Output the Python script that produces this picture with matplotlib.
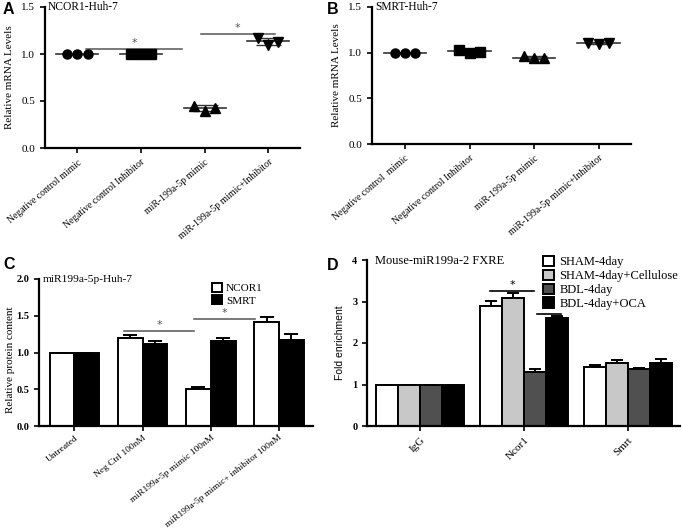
import matplotlib
matplotlib.use("Agg")
import matplotlib.pyplot as plt
import numpy as np

# ---------------- data ----------------
catA = ["Negative control mimic", "Negative control Inhibitor",
        "miR-199a-5p mimic", "miR-199a-5p mimic+Inhibitor"]
catB = ["Negative control  mimic", "Negative control Inhibitor",
        "miR-199a-5p mimic", "miR-199a-5p mimic+Inhibitor"]
ncor1_pts = [[1.00, 1.00, 1.00], [1.00, 1.00, 1.00],
             [0.45, 0.39, 0.43], [1.17, 1.10, 1.13]]
smrt_pts = [[1.00, 1.00, 1.00], [1.03, 1.00, 1.01],
            [0.96, 0.94, 0.94], [1.11, 1.09, 1.11]]
markers = ["o", "s", "^", "v"]

catC = ["Untreated", "Neg Ctrl 100nM", "miR199a-5p mimic 100nM",
        "miR199a-5p mimic+ inhibitor 100nM"]
c_ncor1 = [1.00, 1.20, 0.51, 1.42]
c_ncor1_err = [0.0, 0.04, 0.02, 0.06]
c_smrt = [1.00, 1.12, 1.15, 1.17]
c_smrt_err = [0.0, 0.04, 0.05, 0.08]

catD = ["IgG", "Ncor1", "Smrt"]
d_series = ["SHAM-4day", "SHAM-4day+Cellulose", "BDL-4day", "BDL-4day+OCA"]
d_vals = [[1.0, 2.90, 1.41],
          [1.0, 3.09, 1.52],
          [1.0, 1.30, 1.37],
          [1.0, 2.60, 1.51]]
d_errs = [[0.0, 0.12, 0.05],
          [0.0, 0.11, 0.06],
          [0.0, 0.07, 0.03],
          [0.0, 0.06, 0.10]]
d_colors = ["white", "#c8c8c8", "#505050", "black"]

# ---------------- figure ----------------
W, H = 682, 532
fig = plt.figure(figsize=(W / 100, H / 100), dpi=100)
SERIF = ["Liberation Serif", "DejaVu Serif"]
SANS = ["Liberation Sans", "DejaVu Sans"]


def px_axes(l, t, r, b):
    return fig.add_axes([l / W, 1 - b / H, (r - l) / W, (b - t) / H])


def style(ax, lw=1.6):
    for s in ["top", "right"]:
        ax.spines[s].set_visible(False)
    for s in ["left", "bottom"]:
        ax.spines[s].set_linewidth(lw)
    ax.tick_params(axis="both", direction="out", length=3.5, width=1.2)


def scatter_panel(ax, pts, cats, title):
    x = np.arange(len(pts))
    offs = np.array([-0.16, 0.0, 0.16])
    for i, vals in enumerate(pts):
        vals = np.array(vals)
        m = vals.mean()
        sd = vals.std(ddof=1)
        ax.plot([i - 0.33, i + 0.33], [m, m], color="#333333", lw=1.2, zorder=2)
        ax.errorbar([i], [m], yerr=[[sd], [sd]], fmt="none", ecolor="#333333",
                    elinewidth=1.0, capsize=9, capthick=1.0, zorder=2)
        ax.plot(i + offs, vals, linestyle="none", marker=markers[i],
                color="black", markersize=6.5, zorder=3)
    ax.set_xlim(-0.51, 3.5)
    ax.set_ylim(0, 1.5)
    ax.set_yticks([0, 0.5, 1.0, 1.5])
    ax.set_yticklabels(["0.0", "0.5", "1.0", "1.5"], family=SERIF, fontsize=8)
    ax.set_xticks(x)
    ax.set_xticklabels(cats, rotation=40, ha="right", rotation_mode="anchor",
                       family=SERIF, fontsize=7)
    ax.set_ylabel("Relative mRNA Levels", family=SERIF, fontsize=8)
    ax.text(0.012, 1.0, title, transform=ax.transAxes, family=SERIF,
            fontsize=8.3, va="center", ha="left")
    style(ax)


# Panel A
axA = px_axes(45, 7, 300, 148)
scatter_panel(axA, ncor1_pts, catA, "NCOR1-Huh-7")
axA.yaxis.set_label_coords(-0.12, 0.5)
sig_col = "#555555"
axA.plot([0.13, 1.65], [1.055, 1.055], color=sig_col, lw=1.1)
axA.text(0.89, 1.065, "*", ha="center", va="bottom", fontsize=8, color=sig_col)
axA.plot([1.95, 3.1], [1.215, 1.215], color=sig_col, lw=1.1)
axA.text(2.52, 1.225, "*", ha="center", va="bottom", fontsize=8, color=sig_col)

# Panel B
axB = px_axes(372, 7, 631, 144)
scatter_panel(axB, smrt_pts, catB, "SMRT-Huh-7")
axB.yaxis.set_label_coords(-0.12, 0.5)

# Panel C
axC = px_axes(39, 279, 313, 426)
xc = np.arange(len(catC))
bw = 0.364
axC.bar(xc - bw / 2, c_ncor1, bw, color="white", edgecolor="black", lw=1.4,
        label="NCOR1", zorder=2)
axC.bar(xc + bw / 2, c_smrt, bw, color="black", edgecolor="black", lw=1.4,
        label="SMRT", zorder=2)
axC.errorbar(xc - bw / 2, c_ncor1, yerr=[np.zeros(4), c_ncor1_err], fmt="none",
             ecolor="black", elinewidth=1.4, capsize=5, capthick=1.4, zorder=1)
axC.errorbar(xc + bw / 2, c_smrt, yerr=[np.zeros(4), c_smrt_err], fmt="none",
             ecolor="black", elinewidth=1.4, capsize=5, capthick=1.4, zorder=1)
axC.set_xlim(-0.52, 3.5)
axC.set_ylim(0, 2.0)
axC.set_yticks([0, 0.5, 1.0, 1.5, 2.0])
axC.set_yticklabels(["0.0", "0.5", "1.0", "1.5", "2.0"], family=SERIF,
                    fontsize=7.5, fontweight="bold")
axC.set_xticks(xc)
axC.set_xticklabels(catC, rotation=38, ha="right", rotation_mode="anchor",
                    family=SERIF, fontsize=6.8)
axC.tick_params(axis="x", pad=2)
axC.set_ylabel("Relative protein content", family=SERIF, fontsize=8)
axC.yaxis.set_label_coords(-0.088, 0.45)
axC.text(0.015, 1.0, "miR199a-5p-Huh-7", transform=axC.transAxes,
         family=SERIF, fontsize=8.2, va="center", ha="left")
axC.plot([0.73, 1.75], [1.29, 1.29], color=sig_col, lw=1.1)
axC.text(1.24, 1.30, "*", ha="center", va="bottom", fontsize=8, color=sig_col)
axC.plot([1.75, 2.65], [1.46, 1.46], color=sig_col, lw=1.1)
axC.text(2.2, 1.47, "*", ha="center", va="bottom", fontsize=8, color=sig_col)
style(axC)
axC.legend(loc="upper left", bbox_to_anchor=(212 / W, 1 - 283 / H),
           bbox_transform=fig.transFigure, frameon=False, borderpad=0,
           borderaxespad=0, handlelength=0.9, handleheight=0.9,
           handletextpad=0.35, labelspacing=0.15,
           prop={"family": SERIF, "size": 8})

# Panel D
axD = px_axes(367, 260, 680, 426)
xd = np.arange(len(catD))
bwd = 0.21
offsD = (np.arange(4) - 1.5) * bwd
for k in range(4):
    axD.bar(xd + offsD[k], d_vals[k], bwd, color=d_colors[k], edgecolor="black",
            lw=1.4, label=d_series[k], zorder=2)
    axD.errorbar(xd + offsD[k], d_vals[k], yerr=[np.zeros(3), d_errs[k]],
                 fmt="none", ecolor="black", elinewidth=1.4, capsize=4.5,
                 capthick=1.4, zorder=1)
axD.set_xlim(-0.51, 2.5)
axD.set_ylim(0, 4)
axD.set_yticks([0, 1, 2, 3, 4])
axD.set_yticklabels(["0", "1", "2", "3", "4"], family=SERIF, fontsize=7.5,
                    fontweight="bold")
axD.set_xticks(xd)
axD.set_xticklabels(catD, rotation=45, ha="right", rotation_mode="anchor",
                    family=SERIF, fontsize=8)
axD.set_ylabel("Fold enrichment", family=SANS, fontsize=7.5)
axD.yaxis.set_label_coords(-0.07, 0.5)
axD.text(0.026, 0.995, "Mouse-miR199a-2 FXRE", transform=axD.transAxes,
         family=SERIF, fontsize=9, va="center", ha="left")
axD.plot([1 - 0.33, 1 + 0.10], [3.25, 3.25], color="black", lw=1.2)
axD.text(1 - 0.115, 3.27, "*", ha="center", va="bottom", fontsize=8)
axD.plot([1 + 0.125, 1 + 0.36], [2.70, 2.70], color="black", lw=1.2)
axD.text(1 + 0.24, 2.72, "*", ha="center", va="bottom", fontsize=8)
style(axD)
axD.legend(loc="upper left", bbox_to_anchor=(543 / W, 1 - 256 / H),
           bbox_transform=fig.transFigure, frameon=False, borderpad=0,
           borderaxespad=0, handlelength=0.9, handleheight=0.9,
           handletextpad=0.4, labelspacing=0.1,
           prop={"family": SERIF, "size": 9})

# Panel letters
for lab, (x, y) in {"A": (3, 2), "B": (327, 2), "C": (3, 257), "D": (327, 258)}.items():
    fig.text(x / W, 1 - y / H, lab, family=SANS, fontsize=11.5, fontweight="bold",
             va="top", ha="left")

fig.savefig("out.png", dpi=100)
